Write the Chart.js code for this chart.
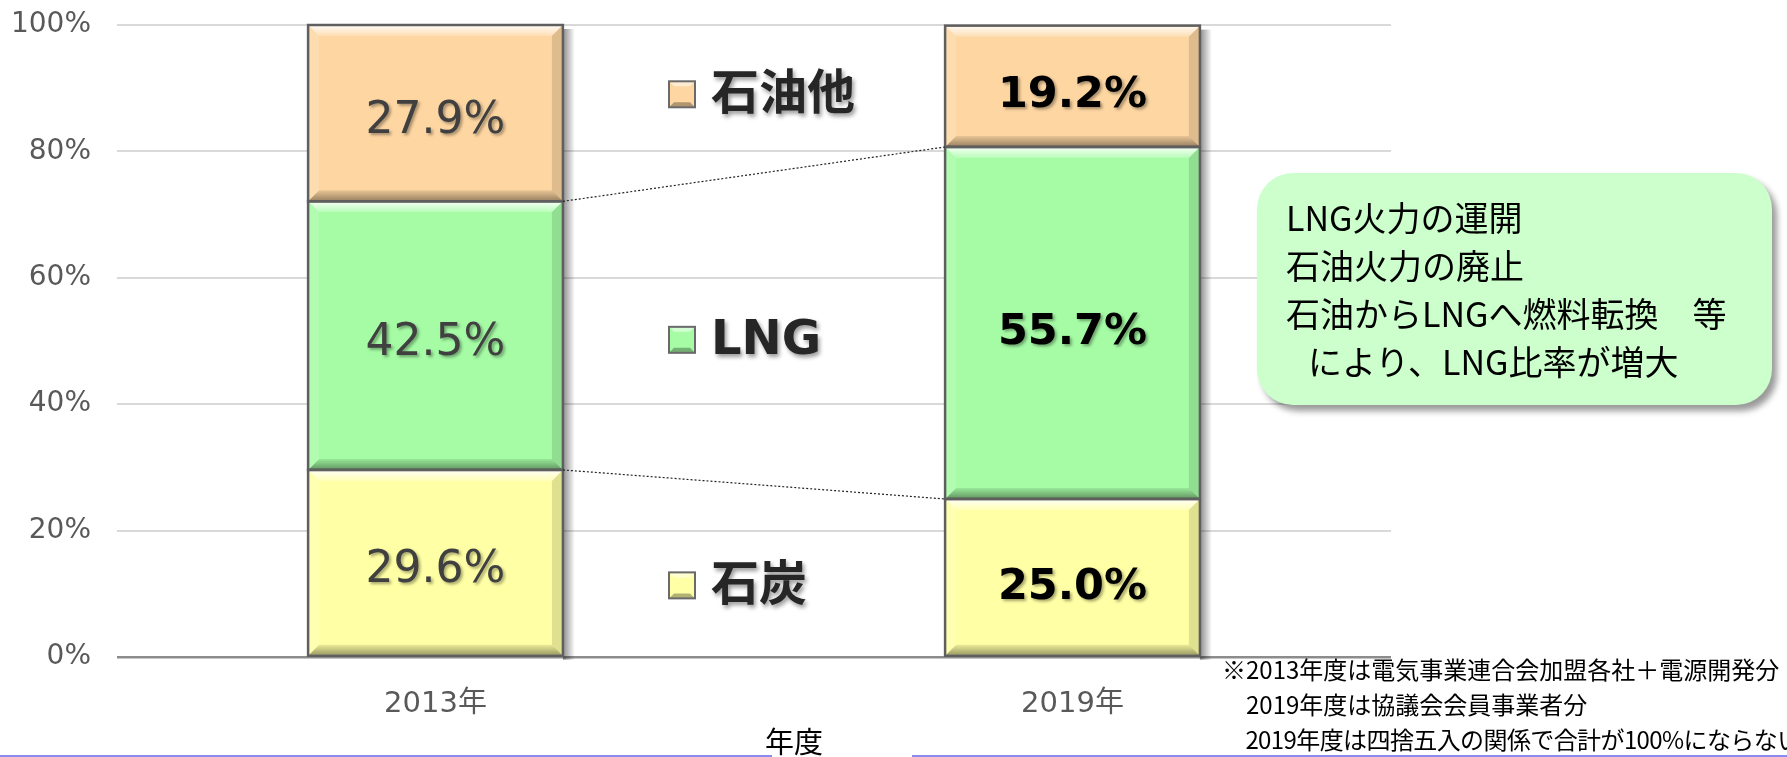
<!DOCTYPE html>
<html lang="ja">
<head>
<meta charset="utf-8">
<script src="https://cdn.jsdelivr.net/npm/chart.js@4"></script>
<style>
  html, body { margin: 0; padding: 0; background: #fff; overflow: hidden; }
  #wrap { position: relative; width: 1787px; height: 757px; }
  #c { position: absolute; left: 0; top: 0; }
  .callout {
    position: absolute; left: 1257px; top: 173px; width: 515px; height: 232px;
    box-sizing: border-box; padding: 20px 0 0 29px;
    background: #ccffcc; border-radius: 36px;
    box-shadow: 5px 6px 6px rgba(0,0,0,0.4);
    font-family: "Noto Sans CJK JP", "DejaVu Sans", sans-serif; font-size: 34px; line-height: 48px;
    color: #000; white-space: pre;
  }
  .note {
    position: absolute; left: 1222px; top: 651px;
    font-family: "Noto Sans CJK JP", sans-serif; font-size: 24px; line-height: 35px;
    color: #000; white-space: pre;
  }
  .nendo {
    position: absolute; left: 765px; top: 722px;
    font-family: "Noto Sans CJK JP", sans-serif; font-size: 29px; line-height: 36px; color: #000;
  }
  .bline { position: absolute; top: 755px; height: 2px; background: #8a8af0; }
</style>
</head>
<body>
<div id="wrap">
  <canvas id="c" width="1787" height="757"></canvas>
  <div class="callout">LNG火力の運開
石油火力の廃止
石油からLNGへ燃料転換　等
<span style="padding-left:22px">により、LNG比率が増大</span></div>
  <div class="note">※2013年度は電気事業連合会加盟各社＋電源開発分
　2019年度は協議会会員事業者分
<span style="letter-spacing:-0.6px">　2019年度は四捨五入の関係で合計が100%にならない</span></div>
  <div class="nendo">年度</div>
  <div class="bline" style="left:0;width:772px"></div>
  <div class="bline" style="left:912px;width:875px"></div>
</div>
<script>
// データ
const years = ['2013年', '2019年'];
const coal = [29.6, 25.0];
const lng = [42.5, 55.7];
const oil = [27.9, 19.2];
const seriesNames = ['石炭', 'LNG', '石油他'];
const seriesColors = ['#FFFFA5', '#A5FCA5', '#FDD6A2'];
const yTicks = [0, 20, 40, 60, 80, 100];

const numFont = '"DejaVu Sans", "Noto Sans CJK JP", sans-serif';

// 影（棒の右側）
const shadowPlugin = {
  id: 'barShadow',
  beforeDatasetsDraw(chart) {
    const ctx = chart.ctx;
    chart.data.datasets.forEach((ds, i) => {
      chart.getDatasetMeta(i).data.forEach(bar => {
        const r = bar.x + bar.width / 2;
        const g = ctx.createLinearGradient(r, 0, r + 12, 0);
        g.addColorStop(0, 'rgba(0,0,0,0.45)');
        g.addColorStop(1, 'rgba(0,0,0,0)');
        ctx.save();
        ctx.fillStyle = g;
        ctx.fillRect(r, bar.y + 4, 12, bar.base - bar.y);
        ctx.restore();
      });
    });
  }
};

// ベベル効果 + 連結線 + ラベル
const decoPlugin = {
  id: 'deco',
  afterDatasetsDraw(chart) {
    const ctx = chart.ctx;
    const metas = chart.data.datasets.map((_, i) => chart.getDatasetMeta(i));

    // ベベル
    metas.forEach(meta => {
      meta.data.forEach(bar => {
        const l = bar.x - bar.width / 2 + 1, r = bar.x + bar.width / 2 - 1;
        const t = bar.y + 1, b = bar.base - 1, d = 10;
        ctx.save();
        let g = ctx.createLinearGradient(0, t, 0, t + d);
        g.addColorStop(0, 'rgba(255,255,255,0.85)');
        g.addColorStop(1, 'rgba(255,255,255,0.2)');
        ctx.fillStyle = g;
        ctx.beginPath();
        ctx.moveTo(l, t); ctx.lineTo(r, t); ctx.lineTo(r - d, t + d); ctx.lineTo(l + d, t + d);
        ctx.closePath(); ctx.fill();
        g = ctx.createLinearGradient(0, b - d, 0, b);
        g.addColorStop(0, 'rgba(0,0,0,0.08)');
        g.addColorStop(1, 'rgba(0,0,0,0.38)');
        ctx.fillStyle = g;
        ctx.beginPath();
        ctx.moveTo(l, b); ctx.lineTo(r, b); ctx.lineTo(r - d, b - d); ctx.lineTo(l + d, b - d);
        ctx.closePath(); ctx.fill();
        ctx.fillStyle = 'rgba(255,255,255,0.15)';
        ctx.beginPath();
        ctx.moveTo(l, t); ctx.lineTo(l + d, t + d); ctx.lineTo(l + d, b - d); ctx.lineTo(l, b);
        ctx.closePath(); ctx.fill();
        ctx.fillStyle = 'rgba(0,0,0,0.12)';
        ctx.beginPath();
        ctx.moveTo(r, t); ctx.lineTo(r - d, t + d); ctx.lineTo(r - d, b - d); ctx.lineTo(r, b);
        ctx.closePath(); ctx.fill();
        // 枠線
        ctx.strokeStyle = '#5f5f5f';
        ctx.lineWidth = 2.5;
        ctx.strokeRect(bar.x - bar.width / 2, bar.y, bar.width, bar.base - bar.y);
        ctx.restore();
      });
    });

    // 点線の連結線
    ctx.save();
    ctx.strokeStyle = '#222';
    ctx.lineWidth = 1.2;
    ctx.setLineDash([2, 2]);
    [0, 1].forEach(i => {
      const a = metas[i].data[0], c = metas[i].data[1];
      ctx.beginPath();
      ctx.moveTo(a.x + a.width / 2, a.y);
      ctx.lineTo(c.x - c.width / 2, c.y);
      ctx.stroke();
    });
    ctx.restore();

    // データラベル
    chart.data.datasets.forEach((ds, i) => {
      metas[i].data.forEach((bar, j) => {
        const cy = (bar.y + bar.base) / 2 + (j === 1 ? 10 : 8);
        ctx.save();
        ctx.font = (j === 1 ? 'bold 43px ' : '44px ') + numFont;
        ctx.fillStyle = j === 1 ? '#000' : '#404040';
        ctx.textAlign = 'center';
        ctx.textBaseline = 'middle';
        ctx.shadowColor = 'rgba(0,0,0,0.35)';
        ctx.shadowOffsetX = 2;
        ctx.shadowOffsetY = 2;
        ctx.shadowBlur = 3;
        ctx.fillText(ds.data[j].toFixed(1) + '%', bar.x, cy);
        ctx.restore();
      });
    });

    // 凡例（2本の棒の間、等間隔）
    const xs = chart.scales.x;
    const midX = (xs.getPixelForValue(0) + xs.getPixelForValue(1)) / 2;
    const segY = i => { const b = metas[i].data[1]; return (b.y + b.base) / 2 + 8; };
    const legY = [segY(0), (segY(0) + segY(2)) / 2, segY(2)];
    chart.data.datasets.forEach((ds, i) => {
      const cy = legY[i];
      const mx = midX - 85, sz = 26;
      ctx.save();
      ctx.fillStyle = ds.backgroundColor;
      ctx.fillRect(mx, cy - sz / 2, sz, sz);
      ctx.fillStyle = 'rgba(255,255,255,0.5)';
      ctx.beginPath();
      ctx.moveTo(mx, cy - sz / 2); ctx.lineTo(mx + sz, cy - sz / 2); ctx.lineTo(mx + sz - 5, cy - sz / 2 + 5); ctx.lineTo(mx + 5, cy - sz / 2 + 5);
      ctx.closePath(); ctx.fill();
      ctx.fillStyle = 'rgba(0,0,0,0.3)';
      ctx.beginPath();
      ctx.moveTo(mx, cy + sz / 2); ctx.lineTo(mx + sz, cy + sz / 2); ctx.lineTo(mx + sz - 5, cy + sz / 2 - 5); ctx.lineTo(mx + 5, cy + sz / 2 - 5);
      ctx.closePath(); ctx.fill();
      ctx.strokeStyle = '#6a6a6a';
      ctx.lineWidth = 2;
      ctx.strokeRect(mx, cy - sz / 2, sz, sz);
      ctx.font = 'bold 48px ' + numFont;
      ctx.fillStyle = '#262626';
      ctx.textAlign = 'left';
      ctx.textBaseline = 'middle';
      ctx.shadowColor = 'rgba(0,0,0,0.4)';
      ctx.shadowOffsetX = 2;
      ctx.shadowOffsetY = 3;
      ctx.shadowBlur = 4;
      ctx.fillText(ds.label, mx + sz + 16, cy + 2);
      ctx.restore();
    });
  }
};

const chart = new Chart(document.getElementById('c').getContext('2d'), {
  type: 'bar',
  data: {
    labels: years,
    datasets: [coal, lng, oil].map((vals, i) => ({
      label: seriesNames[i],
      data: vals,
      backgroundColor: seriesColors[i],
      borderWidth: 0,
      barPercentage: 0.4,
      categoryPercentage: 1.0
    }))
  },
  options: {
    responsive: false,
    animation: false,
    layout: { padding: { left: 0, right: 396, top: 25, bottom: 0 } },
    plugins: { legend: { display: false }, tooltip: { enabled: false } },
    scales: {
      x: {
        stacked: true,
        grid: { display: false, drawTicks: false },
        border: { display: false },
        ticks: { color: '#595959', font: { family: numFont, size: 29 }, padding: 30 },
        afterFit(s) { s.height = 100; }
      },
      y: {
        stacked: true,
        min: 0,
        max: 100,
        afterBuildTicks(s) { s.ticks = yTicks.map(v => ({ value: v })); },
        grid: {
          drawTicks: false,
          color: c => c.tick && c.tick.value === 0 ? '#8c8c8c' : '#d9d9d9',
          lineWidth: c => c.tick && c.tick.value === 0 ? 2.5 : 2
        },
        border: { display: false },
        ticks: {
          color: '#595959',
          font: { family: numFont, size: 28 },
          padding: 26,
          callback: v => v + '%'
        },
        afterFit(s) { s.width = 117; s.paddingTop = 0; s.paddingBottom = 0; }
      }
    }
  },
  plugins: [shadowPlugin, decoPlugin]
});
</script>
</body>
</html>
